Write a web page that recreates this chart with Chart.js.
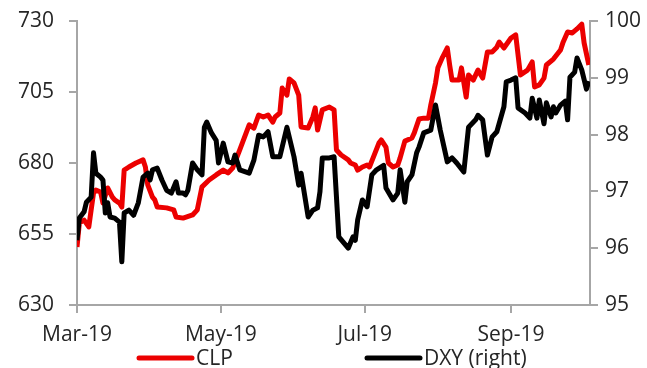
<!DOCTYPE html>
<html>
<head>
<meta charset="utf-8">
<script src="https://cdn.jsdelivr.net/npm/chart.js@4/dist/chart.umd.min.js"></script>
<style>
  html, body { margin: 0; padding: 0; background: #ffffff; }
  #wrap { width: 647px; height: 368px; position: relative; }
</style>
</head>
<body>
<div id="wrap"><canvas id="chart" width="647" height="368"></canvas></div>
<script>
// Days counted from 1 March 2019
const clpDays = [0,1,3,5,6,7,8,10,11,13,15,16,18,19,20,22,25,28,29,30,32,33,34,38,41,42,45,49,51,53,56,59,62,64,66,69,73,75,77,79,81,83,84,86,87,89,90,92,94,95,98,100,101,102,104,107,109,110,112,115,116,118,119,121,123,124,126,128,129,131,132,134,136,137,139,142,143,145,147,149,150,152,153,155,157,158,159,162,163,165,166,168,170,172,174,176,178,179,181,184,186,188,191,193,194,196,198,199,202,205,206,208,210,212,214,215,217];
const clpValues = [650.4,658.9,659.9,657.5,663.5,669.4,670.5,669.8,665.9,671.2,668.0,667.0,665.9,664.5,677.5,678.6,680.0,681.1,678.6,672.3,668.0,667.0,664.5,664.2,663.5,661.0,660.6,661.7,663.5,671.6,674.0,675.8,677.5,676.5,678.2,684.6,693.4,692.3,696.9,696.2,696.9,694.4,696.2,697.6,706.4,703.9,709.6,708.2,703.9,692.7,692.3,696.2,699.4,691.6,698.7,699.7,698.7,684.6,682.8,681.1,680.0,679.3,677.5,678.6,679.3,678.6,682.8,687.0,688.1,685.6,680.0,678.6,679.3,681.8,687.7,688.8,690.6,695.5,695.8,695.8,700.4,708.2,713.5,717.3,720.5,714.5,709.2,709.2,713.5,703.2,711.0,709.2,712.7,709.9,719.1,719.1,720.8,722.6,720.5,724.0,725.1,711.0,712.7,715.6,706.8,707.5,709.9,714.5,716.6,719.8,722.3,726.1,725.8,727.2,728.9,722.3,714.5];

const dxyDays = [0,1,3,4,6,7,8,10,11,12,13,14,16,18,19,20,22,24,26,28,30,31,32,34,36,38,40,42,43,45,46,47,49,51,53,54,55,57,59,60,62,64,66,67,69,73,75,77,79,81,83,86,89,92,94,95,98,100,102,103,104,107,109,111,115,117,118,119,121,123,125,127,130,131,134,136,137,139,140,142,144,145,147,150,152,154,157,159,161,164,166,169,170,172,174,176,178,181,182,184,186,187,190,192,193,195,196,198,199,201,202,203,205,207,208,209,211,212,214,216,217];
const dxyValues = [96.14,96.53,96.64,96.81,96.90,97.68,97.32,97.25,97.20,96.62,96.80,96.55,96.53,96.46,95.76,96.62,96.67,96.58,96.80,97.25,97.32,97.20,97.38,97.41,97.20,97.02,96.97,97.17,96.97,96.97,96.94,97.02,97.50,97.38,97.29,98.13,98.22,98.03,97.90,97.50,97.85,97.52,97.50,97.64,97.38,97.32,97.55,97.99,97.96,98.05,97.61,97.61,98.13,97.61,97.11,97.32,96.55,96.67,96.71,96.99,97.59,97.59,97.61,96.20,96.00,96.20,96.14,96.50,96.85,96.73,97.29,97.38,97.46,97.06,96.85,96.97,97.38,96.81,97.17,97.29,97.68,97.78,98.03,98.08,98.52,98.08,97.52,97.59,97.50,97.34,98.13,98.26,98.34,98.26,97.64,97.96,98.05,98.49,98.93,98.96,99.00,98.47,98.38,98.29,98.64,98.29,98.61,98.19,98.56,98.31,98.49,98.38,98.52,98.59,98.26,99.01,99.10,99.35,99.14,98.80,98.94];

const monthTickDays = [0, 61, 122, 184];
const monthTickLabels = ['Mar-19', 'May-19', 'Jul-19', 'Sep-19'];
const lastDay = 217.5;

const seriesNames = ['CLP', 'DXY (right)'];
const seriesColors = ['#ec0000', '#000000'];

const toPoints = (xs, ys) => xs.map((x, i) => ({ x: x, y: ys[i] }));

const FONT = { family: "'Open Sans', sans-serif", size: 21 };
const TEXT = '#262626';
const AXIS = '#a6a6a6';

// Legend drawn beneath the axis labels: a short thick line followed by the name
const bottomLegend = {
  id: 'bottomLegend',
  afterDraw(chart) {
    const ctx = chart.ctx;
    const items = [
      { x0: 139, x1: 192, text: seriesNames[0], color: seriesColors[0] },
      { x0: 367, x1: 420, text: seriesNames[1], color: seriesColors[1] }
    ];
    const y = 358;
    ctx.save();
    ctx.font = FONT.size + 'px ' + FONT.family;
    ctx.textBaseline = 'middle';
    ctx.textAlign = 'left';
    items.forEach(it => {
      ctx.beginPath();
      ctx.lineCap = 'round';
      ctx.lineWidth = 5;
      ctx.strokeStyle = it.color;
      ctx.moveTo(it.x0, y);
      ctx.lineTo(it.x1, y);
      ctx.stroke();
      ctx.fillStyle = TEXT;
      ctx.fillText(it.text, it.x1 + 4, y + 1);
    });
    ctx.restore();
  }
};

// Fixed axis sizes so the plot area sits in the same place every time
const fixVertical = width => scale => {
  scale.width = width;
  scale.paddingTop = 0;
  scale.paddingBottom = 0;
};

new Chart(document.getElementById('chart'), {
  type: 'line',
  data: {
    datasets: [
      {
        label: seriesNames[0],
        data: toPoints(clpDays, clpValues),
        borderColor: seriesColors[0],
        borderWidth: 5,
        pointRadius: 0,
        tension: 0,
        borderJoinStyle: 'round',
        yAxisID: 'y',
        order: 2
      },
      {
        label: seriesNames[1],
        data: toPoints(dxyDays, dxyValues),
        borderColor: seriesColors[1],
        borderWidth: 5,
        pointRadius: 0,
        tension: 0,
        borderJoinStyle: 'round',
        yAxisID: 'y1',
        order: 1
      }
    ]
  },
  options: {
    responsive: false,
    devicePixelRatio: 1,
    animation: false,
    layout: { padding: { top: 21, left: 0, right: 0, bottom: 0 } },
    plugins: { legend: { display: false }, tooltip: { enabled: false } },
    scales: {
      x: {
        type: 'linear',
        min: 0,
        max: lastDay,
        afterBuildTicks(scale) {
          scale.ticks = monthTickDays.map(v => ({ value: v }));
        },
        afterFit(scale) { scale.height = 63; scale.paddingLeft = 0; scale.paddingRight = 0; },
        ticks: {
          autoSkip: false,
          maxRotation: 0,
          padding: 9,
          color: TEXT,
          font: FONT,
          callback(value) {
            const i = monthTickDays.indexOf(value);
            return i >= 0 ? monthTickLabels[i] : '';
          }
        },
        grid: { drawOnChartArea: false, drawTicks: true, tickLength: 8, color: AXIS, lineWidth: 2 },
        border: { display: true, color: AXIS, width: 2 }
      },
      y: {
        position: 'left',
        min: 630,
        max: 730,
        afterFit: fixVertical(77),
        ticks: { stepSize: 25, padding: 15, color: TEXT, font: FONT },
        grid: { drawOnChartArea: false, drawTicks: true, tickLength: 8, color: AXIS, lineWidth: 2 },
        border: { display: true, color: AXIS, width: 2 }
      },
      y1: {
        position: 'right',
        min: 95,
        max: 100,
        afterFit: fixVertical(57),
        ticks: { stepSize: 1, padding: 7, color: TEXT, font: FONT },
        grid: { drawOnChartArea: false, drawTicks: true, tickLength: 8, color: AXIS, lineWidth: 2 },
        border: { display: true, color: AXIS, width: 2 }
      }
    }
  },
  plugins: [bottomLegend]
});
</script>
</body>
</html>
